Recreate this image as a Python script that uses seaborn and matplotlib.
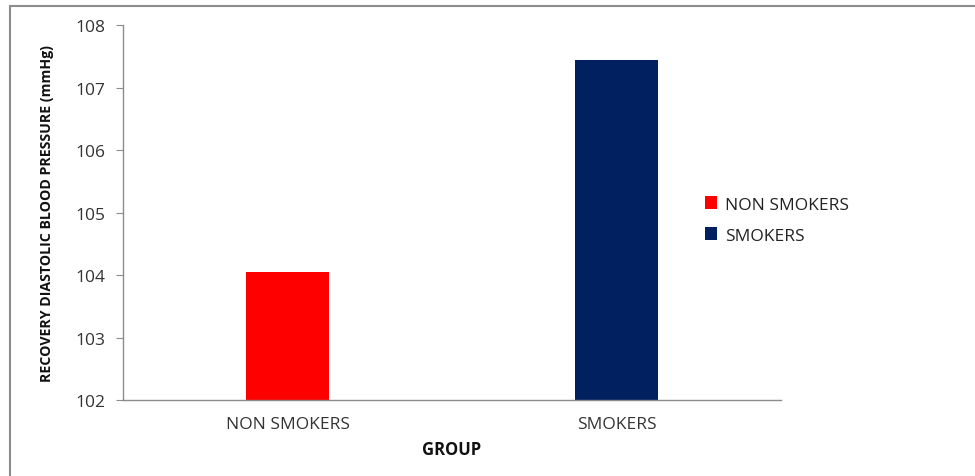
import matplotlib
matplotlib.use("Agg")
import matplotlib.pyplot as plt
import seaborn as sns
import pandas as pd
from matplotlib.lines import Line2D
from matplotlib.patches import Patch

groups = ["NON SMOKERS", "SMOKERS"]
values = [104.05, 107.44]
colors = ["#FF0000", "#002060"]

sns.set_style("white")
plt.rcParams['font.family'] = ['Open Sans', 'DejaVu Sans']

df = pd.DataFrame({"GROUP": groups, "value": values})

fig = plt.figure(figsize=(9.75, 4.77), dpi=100)
ax = fig.add_axes([123/975, 1-401/477, (781-123)/975, (401-26)/477])

sns.barplot(data=df, x="GROUP", y="value", hue="GROUP", palette=colors,
            saturation=1, width=0.25, ax=ax, legend=False,
            edgecolor=None, linewidth=0)

ax.set_ylim(102, 108)
ax.set_yticks([102, 103, 104, 105, 106, 107, 108])
ax.set_xlim(-0.5, 1.5)

for s in ["top", "right"]:
    ax.spines[s].set_visible(False)
for s in ["left", "bottom"]:
    ax.spines[s].set_color("#8c8c8c")
    ax.spines[s].set_linewidth(1.0)

ax.tick_params(axis="y", which="both", left=True, length=5, color="#8c8c8c",
               labelsize=12.5, labelcolor="#333333", pad=8)
ax.tick_params(axis="x", bottom=False, labelsize=12.5, labelcolor="#333333", pad=8)

ax.set_xlabel("GROUP", fontsize=12, fontweight="bold", color="#111111", labelpad=6)
ax.set_ylabel("RECOVERY DIASTOLIC BLOOD PRESSURE (mmHg)", fontsize=10.2,
              fontweight="bold", color="#111111")
ax.yaxis.set_label_coords((54-123)/658, 0.5)

handles = [Patch(facecolor=c, edgecolor="none") for c in colors]
leg = fig.legend(handles, groups, loc="center left",
                 bbox_to_anchor=(689/975, 1-221/477), frameon=False,
                 fontsize=12.5, handlelength=0.7, handleheight=0.7,
                 handletextpad=0.45, labelspacing=0.85)
for t in leg.get_texts():
    t.set_color("#222222")

# outer frame lines (left and top)
fig.add_artist(Line2D([10/975, 10/975], [0, 1-7/477], transform=fig.transFigure,
                      color="#8c8c8c", linewidth=1.5))
fig.add_artist(Line2D([10/975, 1], [1-7/477, 1-7/477], transform=fig.transFigure,
                      color="#8c8c8c", linewidth=1.5))

fig.savefig("out.png", dpi=100)
